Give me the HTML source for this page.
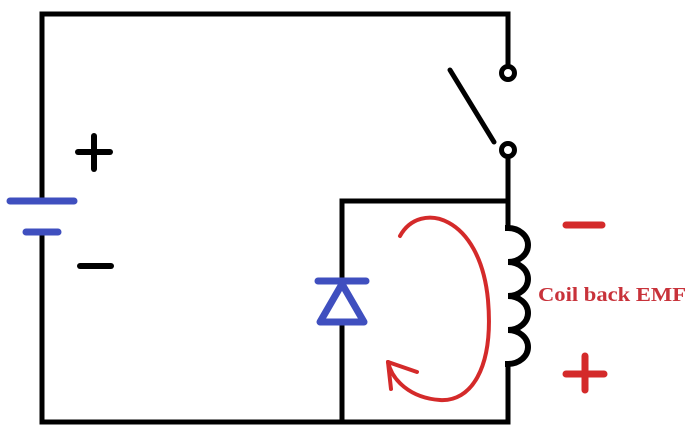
<!DOCTYPE html><html><head><style>body{margin:0;background:#fff}svg{display:block}</style></head><body>
<svg width="688" height="448" viewBox="0 0 688 448">
<g fill="none" stroke="#000" stroke-width="5" stroke-linecap="square">
<polyline points="42,195 42,14 508,14 508,66"/>
<line x1="42" y1="232" x2="42" y2="422"/>
<line x1="42" y1="422" x2="508" y2="422"/>
<polyline points="508,158 508,201 342,201 342,284"/>
<line x1="342" y1="322" x2="342" y2="422"/>
<line x1="508" y1="201" x2="508" y2="228"/>
<line x1="508" y1="364" x2="508" y2="422"/>
<path d="M508,228 a20,17 0 0 1 0,34 a20,17 0 0 1 0,34 a20,17 0 0 1 0,34 a20,17 0 0 1 0,34" stroke-width="6"/>
<line x1="450" y1="70" x2="494" y2="142" stroke-linecap="round"/>
<circle cx="508" cy="73" r="6.5"/>
<circle cx="508" cy="150" r="6.5"/>
<g stroke-linecap="round" stroke-width="6"><line x1="78" y1="152" x2="110" y2="152"/><line x1="94" y1="136" x2="94" y2="169"/><line x1="80" y1="266" x2="111" y2="266"/></g>
</g>
<g stroke="#3f4fbf" stroke-width="7" stroke-linecap="round" fill="none">
<line x1="10" y1="201" x2="74" y2="201"/><line x1="26" y1="232" x2="58" y2="232"/>
<line x1="318" y1="281" x2="366" y2="281"/>
<polygon points="342,284 320,322 364,322" stroke-linejoin="round"/>
</g>
<g stroke="#d42a2a" stroke-width="4" fill="none" stroke-linecap="round">
<path d="M400,236 C420,200 480,215 488,300 C494,370 470,402 440,400 C410,398 392,380 388,362"/>
<line x1="388" y1="362" x2="417" y2="372"/><line x1="388" y1="362" x2="391" y2="389"/>
</g>
<g stroke="#d42a2a" stroke-width="7" stroke-linecap="round">
<line x1="566" y1="225" x2="602" y2="225"/>
<line x1="566" y1="374" x2="604" y2="374"/><line x1="585" y1="356" x2="585" y2="390"/>
</g>
<text x="538" y="301" font-family="Liberation Serif, serif" font-weight="bold" font-size="20.5" fill="#c8323a" textLength="148" lengthAdjust="spacingAndGlyphs">Coil back EMF</text>
</svg></body></html>
